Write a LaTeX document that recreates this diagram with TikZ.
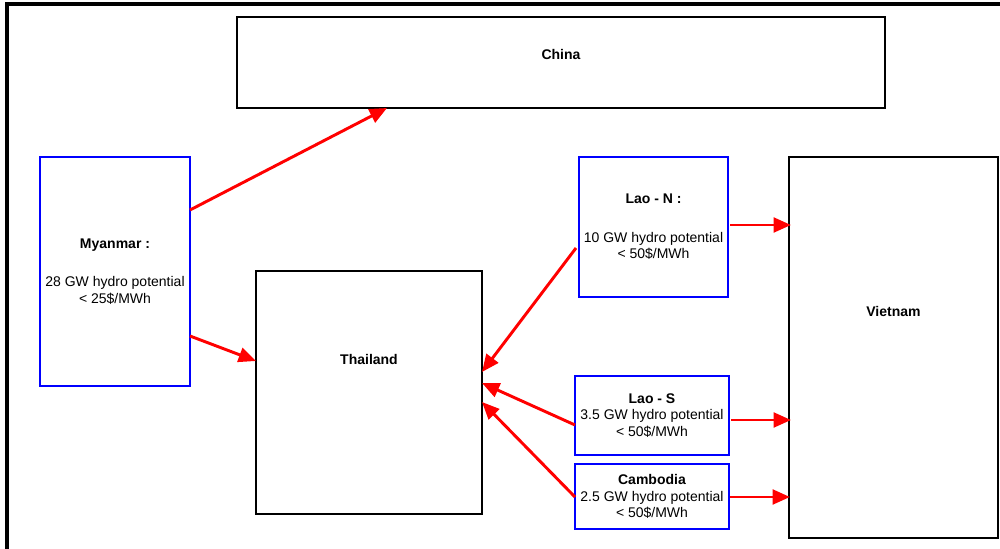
\documentclass[tikz,border=0pt]{standalone}
\usepackage{fontspec}
\setmainfont{Liberation Sans}
\usetikzlibrary{arrows.meta}
\tikzset{
  country/.style={draw=black, line width=2pt, outer sep=0pt, inner sep=0pt},
  hydro/.style={draw=blue, line width=1.8pt, outer sep=0pt, inner sep=0pt, align=center, font=\fontsize{10.5}{12.5}\selectfont},
  cname/.style={font=\fontsize{10.5}{12.5}\selectfont\bfseries},
  flow/.style={draw=red, line width=2.2pt, -{Triangle[length=13pt,width=11pt]}}
}
\begin{document}
\begin{tikzpicture}[x=0.75pt, y=-0.75pt, line join=miter]
  \useasboundingbox (0,0) rectangle (1000,549);
  % outer frame
  \draw[line width=2.4pt] (7,549) -- (7,4) -- (1000,4);
  % importing countries
  \node[country, minimum width=486pt, minimum height=68.25pt] (china) at (561,62.5) {};
  \node[country, minimum width=169.5pt, minimum height=182.25pt] (thailand) at (369,392.5) {};
  \node[country, minimum width=156.75pt, minimum height=285.75pt] (vietnam) at (893.5,347.5) {};
  \node[cname] (chinalbl) at (561,54) {China};
  \node[cname] (thailandlbl) at (369,359) {Thailand};
  \node[cname] (vietnamlbl) at (893.5,311) {Vietnam};
  % hydro potential
  \node[hydro, minimum width=112.5pt, minimum height=171.75pt] (myanmar) at (115,271.5)
    {\textbf{Myanmar :}\\[16.5pt]28 GW hydro potential\\< 25\$/MWh};
  \node[hydro, minimum width=111.75pt, minimum height=105pt] (laon) at (653.5,227)
    {\textbf{Lao - N :}\\[16.5pt]10 GW hydro potential\\< 50\$/MWh};
  \node[hydro, minimum width=115.5pt, minimum height=59.25pt] (laos) at (652,415.5)
    {\textbf{Lao - S}\\3.5 GW hydro potential\\< 50\$/MWh};
  \node[hydro, minimum width=115.5pt, minimum height=48.75pt] (cambodia) at (652,496.5)
    {\textbf{Cambodia}\\2.5 GW hydro potential\\< 50\$/MWh};
  % flows
  \draw[flow] ([shift={(0,-61.5)}]myanmar.east) -- ([shift={(-174,0)}]china.south);
  \draw[flow] ([shift={(0,64.5)}]myanmar.east) -- ([shift={(0,-31.5)}]thailand.west);
  \draw[flow] ([shift={(-3,21)}]laon.west) -- ([shift={(0,-20.5)}]thailand.east);
  \draw[flow] ([shift={(0,9.5)}]laos.west) -- ([shift={(0,-9.5)}]thailand.east);
  \draw[flow] ([shift={(0,0.5)}]cambodia.west) -- ([shift={(0,9.5)}]thailand.east);
  \draw[flow] ([shift={(2,-2)}]laon.east) -- ([shift={(2,-2)}]laon.east -| vietnam.west);
  \draw[flow] ([shift={(2,4.5)}]laos.east) -- ([shift={(2,4.5)}]laos.east -| vietnam.west);
  \draw[flow] ([shift={(1,0.5)}]cambodia.east) -- ([shift={(1,0.5)}]cambodia.east -| vietnam.west);
\end{tikzpicture}
\end{document}
